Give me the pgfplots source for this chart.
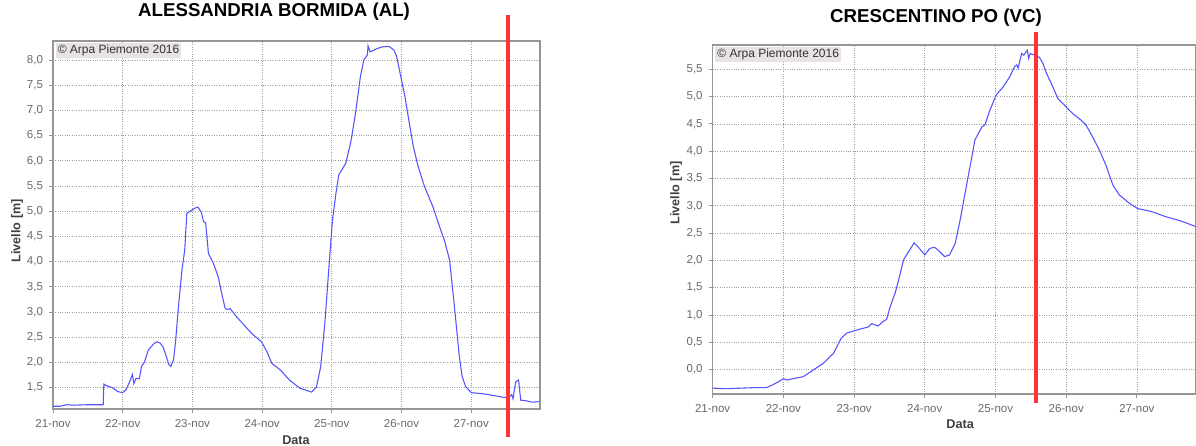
\documentclass[border=0pt]{standalone}
\usepackage{fontspec}
\setmainfont{Liberation Sans}
\usepackage{pgfplots}
\pgfplotsset{compat=1.18}
\definecolor{lineblue}{RGB}{85,85,255}
\definecolor{redline}{RGB}{255,51,51}
\definecolor{tickgray}{RGB}{105,105,105}
\definecolor{framegray}{RGB}{150,150,150}
\definecolor{copybg}{RGB}{232,226,226}

\pgfplotsset{arpa/.style={
  scale only axis, xmin=0,
  xtick={0,1,2,3,4,5,6},
  xticklabels={21-nov,22-nov,23-nov,24-nov,25-nov,26-nov,27-nov},
  grid=major,
  grid style={densely dotted, gray!75, line width=0.4pt},
  axis line style={framegray, line width=0.9pt},
  tick style={framegray, line width=0.5pt},
  tick align=outside, major tick length=2.5pt, tick pos=left,
  ticklabel style={font=\fontsize{6.9}{8}\selectfont, text=tickgray},
  /pgf/number format/use comma,
  /pgf/number format/fixed,
  /pgf/number format/fixed zerofill,
  /pgf/number format/precision=1,
  /pgf/number format/assume math mode=true,
  xlabel={Data}, ylabel={Livello [m]},
  label style={font=\bfseries\fontsize{7.6}{9}\selectfont, text=black!75},
  title style={font=\bfseries\fontsize{11.2}{13}\selectfont, anchor=center},
  ylabel style={anchor=center},
  xlabel style={anchor=center},
  clip=false,
}}

\begin{document}
\begin{tikzpicture}
\path[use as bounding box] (0,0) rectangle (717.6pt,267.6pt);

\begin{axis}[arpa,
  at={(31.8pt,22.2pt)}, anchor=south west,
  width=292.2pt, height=220.8pt,
  xmax=6.987, ymin=1.075, ymax=8.377,
  ytick={1.5,2,2.5,3,3.5,4,4.5,5,5.5,6,6.5,7,7.5,8},
  title={ALESSANDRIA BORMIDA (AL)},
  title style={at={(axis description cs:0.454,1)}, yshift=11.6pt},
  ylabel style={at={(axis description cs:0,0.484)}, yshift=21.6pt},
  xlabel style={at={(axis description cs:0.499,0)}, yshift=-18.6pt},
]
\addplot[lineblue, line width=0.65pt] coordinates {
(0,1.13) (0.1,1.13) (0.2,1.16) (0.3,1.15) (0.5,1.16) (0.72,1.16) (0.73,1.57) (0.76,1.54) (0.85,1.50) (0.93,1.42) (1.0,1.40) (1.05,1.46) (1.10,1.62) (1.14,1.76) (1.16,1.58) (1.19,1.68) (1.24,1.68) (1.27,1.92) (1.31,2.00) (1.37,2.25) (1.44,2.36) (1.49,2.41) (1.54,2.38) (1.58,2.30) (1.63,2.10) (1.66,1.96) (1.69,1.92) (1.73,2.05) (1.76,2.44) (1.80,3.10) (1.85,3.83) (1.89,4.23) (1.92,4.96) (1.99,5.02) (2.05,5.07) (2.08,5.08) (2.13,4.97) (2.16,4.79) (2.19,4.77) (2.23,4.16) (2.30,3.97) (2.37,3.70) (2.42,3.37) (2.47,3.07) (2.50,3.05) (2.54,3.07) (2.63,2.91) (2.78,2.68) (2.87,2.55) (2.99,2.41) (3.07,2.21) (3.14,1.98) (3.26,1.85) (3.40,1.64) (3.54,1.49) (3.71,1.41) (3.78,1.51) (3.84,1.91) (3.90,2.77) (3.97,4.10) (4.01,4.83) (4.06,5.36) (4.10,5.72) (4.20,5.95) (4.27,6.35) (4.34,6.94) (4.41,7.67) (4.46,8.0) (4.51,8.10) (4.52,8.28) (4.55,8.16) (4.62,8.21) (4.72,8.26) (4.82,8.27) (4.89,8.20) (4.93,8.07) (4.98,7.74) (5.05,7.27) (5.12,6.68) (5.17,6.28) (5.24,5.88) (5.33,5.49) (5.45,5.09) (5.53,4.76) (5.62,4.40) (5.69,4.03) (5.76,3.10) (5.83,2.11) (5.87,1.72) (5.92,1.52) (6.00,1.40) (6.21,1.37) (6.45,1.31) (6.54,1.30) (6.58,1.36) (6.60,1.28) (6.64,1.62) (6.68,1.65) (6.71,1.25) (6.78,1.24) (6.88,1.21) (6.97,1.22)
};
\addplot[redline, line width=2.4pt] coordinates {(6.528,0.52) (6.528,8.89)};
\node[anchor=north west, fill=copybg, inner sep=1.2pt, font=\fontsize{7.2}{8}\selectfont, text=black!80] at (rel axis cs:0.005,0.995) {© Arpa Piemonte 2016};
\end{axis}

\begin{axis}[arpa,
  at={(427.6pt,31.2pt)}, anchor=south west,
  width=290pt, height=209.4pt,
  xmax=6.836, ymin=-0.447, ymax=5.945,
  ytick={0,0.5,1,1.5,2,2.5,3,3.5,4,4.5,5,5.5},
  title={CRESCENTINO PO (VC)},
  title style={at={(axis description cs:0.462,1)}, yshift=10.2pt},
  ylabel style={at={(axis description cs:0,0.576)}, yshift=22pt},
  xlabel style={at={(axis description cs:0.512,0)}, yshift=-18pt},
]
\addplot[lineblue, line width=0.65pt] coordinates {
(0,-0.34) (0.2,-0.35) (0.4,-0.34) (0.6,-0.33) (0.76,-0.33) (0.85,-0.28) (1.0,-0.17) (1.05,-0.19) (1.28,-0.13) (1.42,-0.01) (1.56,0.11) (1.71,0.30) (1.82,0.58) (1.90,0.67) (2.08,0.74) (2.20,0.78) (2.25,0.84) (2.34,0.80) (2.41,0.88) (2.46,0.92) (2.51,1.15) (2.58,1.40) (2.63,1.64) (2.70,2.01) (2.77,2.16) (2.85,2.32) (2.91,2.24) (3.00,2.10) (3.07,2.22) (3.14,2.24) (3.21,2.16) (3.28,2.07) (3.35,2.10) (3.43,2.31) (3.50,2.74) (3.57,3.23) (3.64,3.72) (3.71,4.21) (3.81,4.45) (3.85,4.48) (3.92,4.75) (4.01,5.03) (4.11,5.18) (4.20,5.36) (4.27,5.55) (4.30,5.58) (4.32,5.52) (4.37,5.79) (4.40,5.76) (4.45,5.85) (4.47,5.70) (4.49,5.79) (4.55,5.76) (4.62,5.72) (4.67,5.61) (4.72,5.43) (4.79,5.24) (4.83,5.12) (4.88,4.97) (4.97,4.85) (5.09,4.69) (5.21,4.57) (5.28,4.48) (5.37,4.27) (5.47,4.02) (5.56,3.75) (5.66,3.38) (5.75,3.20) (5.89,3.05) (6.01,2.95) (6.22,2.89) (6.41,2.80) (6.65,2.71) (6.83,2.62)
};
\addplot[redline, line width=2.4pt] coordinates {(4.573,-0.61) (4.573,6.18)};
\node[anchor=north west, fill=copybg, inner sep=1.2pt, font=\fontsize{7.2}{8}\selectfont, text=black!80] at (rel axis cs:0.005,0.995) {© Arpa Piemonte 2016};
\end{axis}
\end{tikzpicture}
\end{document}
